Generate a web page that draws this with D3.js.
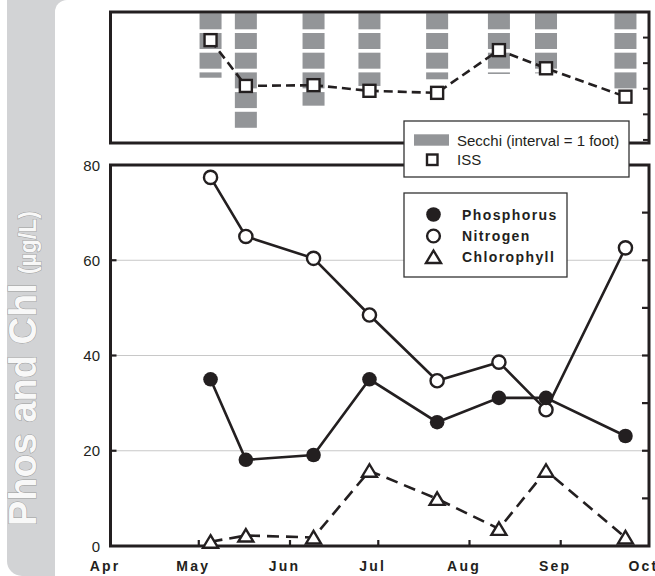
<!DOCTYPE html>
<html>
<head>
<meta charset="utf-8">
<script src="https://cdn.jsdelivr.net/npm/d3@7"></script>
<style>
  html, body { margin: 0; padding: 0; background: #ffffff; }
  svg { display: block; }
  text { font-family: "Liberation Sans", Arial, sans-serif; }
</style>
</head>
<body>
<script>
// ---------- DATA ----------
const sampleDates = ["2009-05-05", "2009-05-17", "2009-06-09", "2009-06-28", "2009-07-21", "2009-08-11", "2009-08-27", "2009-09-23"];
const phosphorus  = [35.0, 18.1, 19.1, 35.0, 26.0, 31.1, 31.1, 23.1];
const nitrogen    = [77.4, 65.0, 60.4, 48.5, 34.7, 38.6, 28.6, 62.6];
const chlorophyll = [0.9, 2.2, 1.8, 15.8, 9.9, 3.6, 15.8, 1.8];
const secchiFeet  = [3.27, 6.0, 4.69, 3.69, 3.35, 3.08, 3.05, 3.85];
const issValues   = [3.90, 2.11, 2.14, 1.92, 1.84, 3.51, 2.80, 1.69];
const monthTickDates = ["2009-04-01", "2009-05-01", "2009-06-01", "2009-07-01", "2009-08-01", "2009-09-01", "2009-10-01"];
const monthLabels = ["Apr", "May", "Jun", "Jul", "Aug", "Sep", "Oct"];
const yTickValues = [0, 20, 40, 60, 80];
const yMinorTicks = [10, 20, 30, 40, 50, 60, 70];
const issTicks = [0, 1, 2, 3, 4];
const legendMain = ["Phosphorus", "Nitrogen", "Chlorophyll"];
const legendTop = ["Secchi (interval = 1 foot)", "ISS"];
const yTitle = "Phos and Chl";
const yUnit = "(µg/L)";

// ---------- SETUP ----------
const W = 655, H = 576;
const parse = d3.timeParse("%Y-%m-%d");
const dates = sampleDates.map(parse);
const ink = "#231f20";

const svg = d3.select("body").append("svg").attr("width", W).attr("height", H);

// left gray banner
svg.append("path")
  .attr("d", "M7,0 H80 V576 H22 A15,15 0 0 1 7,561 Z")
  .attr("fill", "#d2d3d5");
svg.append("rect").attr("x", 55).attr("y", 0).attr("width", 640).attr("height", 620)
  .attr("rx", 12).attr("fill", "#ffffff");

const titleT = svg.append("text")
  .attr("transform", "translate(36,526) rotate(-90)")
  .attr("font-weight", "bold")
  .attr("fill", "#f8f8f8").attr("stroke", "#9c9c9c").attr("stroke-width", 1)
  .attr("paint-order", "stroke");
titleT.append("tspan").attr("font-size", 38).text(yTitle);
titleT.append("tspan").attr("font-size", 23).attr("dx", 9).text(yUnit);

// ---------- SCALES ----------
const x = d3.scaleTime().domain([parse(monthTickDates[0]), parse(monthTickDates[6])]).range([110.5, 649]);
const y = d3.scaleLinear().domain([0, 80]).range([546, 165]);
const yIss = d3.scaleLinear().domain([-0.12, 5.0]).range([143, 12]);
const ySec = d3.scaleLinear().domain([0, 6.6]).range([13.3, 143.3]);

// ---------- TOP PANEL ----------
const topG = svg.append("g");
const segs = [];
secchiFeet.forEach((d, i) => {
  for (let k = 0; k < Math.ceil(d); k++) {
    const y0 = ySec(k);
    const y1 = Math.min(ySec(k + 1) - 3.7, ySec(d));
    if (y1 > y0) segs.push({ i, y0, y1 });
  }
});
topG.selectAll("rect.sec").data(segs).join("rect")
  .attr("class", "sec")
  .attr("x", d => x(dates[d.i]) - 11).attr("width", 22)
  .attr("y", d => d.y0).attr("height", d => d.y1 - d.y0)
  .attr("fill", "#939598");

topG.append("path")
  .datum(issValues)
  .attr("d", d3.line().x((d, i) => x(dates[i])).y(d => yIss(d)))
  .attr("fill", "none").attr("stroke", ink).attr("stroke-width", 2.6)
  .attr("stroke-dasharray", "9,5");
topG.selectAll("rect.iss").data(issValues).join("rect")
  .attr("class", "iss")
  .attr("x", (d, i) => x(dates[i]) - 6).attr("y", d => yIss(d) - 6)
  .attr("width", 12).attr("height", 12)
  .attr("fill", "#fff").attr("stroke", ink).attr("stroke-width", 2.4);

topG.append("rect").attr("x", 110.5).attr("y", 12).attr("width", 649 - 110.5).attr("height", 131)
  .attr("fill", "none").attr("stroke", ink).attr("stroke-width", 3);
topG.selectAll("line.itick").data(issTicks).join("line")
  .attr("x1", 649).attr("x2", 643)
  .attr("y1", d => yIss(d)).attr("y2", d => yIss(d))
  .attr("stroke", ink).attr("stroke-width", 2);

// ---------- MAIN PANEL ----------
const mainG = svg.append("g");
mainG.selectAll("line.grid").data(yTickValues.filter(v => v > 0 && v < 80)).join("line")
  .attr("x1", 110.5).attr("x2", 649)
  .attr("y1", d => y(d)).attr("y2", d => y(d))
  .attr("stroke", "#c8c8c8").attr("stroke-width", 1);

mainG.selectAll("line.rtick").data(yMinorTicks).join("line")
  .attr("x1", 649).attr("x2", 642)
  .attr("y1", d => y(d)).attr("y2", d => y(d))
  .attr("stroke", ink).attr("stroke-width", 2.2);
mainG.selectAll("line.ltick").data(yTickValues.filter(v => v > 0 && v < 80)).join("line")
  .attr("x1", 110.5).attr("x2", 116.5)
  .attr("y1", d => y(d)).attr("y2", d => y(d))
  .attr("stroke", ink).attr("stroke-width", 2.2);
mainG.selectAll("line.btick").data(monthTickDates.slice(1, 6).map(parse)).join("line")
  .attr("x1", d => x(d)).attr("x2", d => x(d))
  .attr("y1", 546).attr("y2", 540)
  .attr("stroke", ink).attr("stroke-width", 2.2);

mainG.append("rect").attr("x", 110.5).attr("y", 165).attr("width", 649 - 110.5).attr("height", 381)
  .attr("fill", "none").attr("stroke", ink).attr("stroke-width", 3);

mainG.selectAll("text.yl").data(yTickValues).join("text")
  .attr("class", "yl")
  .attr("x", 100).attr("y", d => y(d) + 5.5)
  .attr("text-anchor", "end").attr("font-size", 15).attr("fill", ink)
  .text(d => d);

mainG.selectAll("text.ml").data(monthLabels).join("text")
  .attr("class", "ml")
  .attr("x", (d, i) => x(parse(monthTickDates[i])) - 5.5).attr("y", 571)
  .attr("text-anchor", "middle").attr("font-size", 14).attr("font-weight", "bold")
  .attr("letter-spacing", 2.2).attr("fill", ink)
  .text(d => d);

const line = d3.line().x((d, i) => x(dates[i])).y(d => y(d));
mainG.append("path").datum(nitrogen).attr("d", line)
  .attr("fill", "none").attr("stroke", ink).attr("stroke-width", 2.6);
mainG.append("path").datum(phosphorus).attr("d", line)
  .attr("fill", "none").attr("stroke", ink).attr("stroke-width", 2.6);
mainG.append("path").datum(chlorophyll).attr("d", line)
  .attr("fill", "none").attr("stroke", ink).attr("stroke-width", 2.6)
  .attr("stroke-dasharray", "12,7");

const triPath = "M0,-6.5 L7.5,6 L-7.5,6 Z";
mainG.selectAll("circle.n").data(nitrogen).join("circle")
  .attr("class", "n")
  .attr("cx", (d, i) => x(dates[i])).attr("cy", d => y(d)).attr("r", 6.6)
  .attr("fill", "#fff").attr("stroke", ink).attr("stroke-width", 2.4);
mainG.selectAll("circle.p").data(phosphorus).join("circle")
  .attr("class", "p")
  .attr("cx", (d, i) => x(dates[i])).attr("cy", d => y(d)).attr("r", 7.3)
  .attr("fill", ink);
mainG.selectAll("path.c").data(chlorophyll).join("path")
  .attr("class", "c")
  .attr("transform", (d, i) => `translate(${x(dates[i])},${y(d)})`)
  .attr("d", triPath)
  .attr("fill", "#fff").attr("stroke", ink).attr("stroke-width", 2.4);

// ---------- LEGENDS ----------
const lg1 = svg.append("g");
lg1.append("rect").attr("x", 404).attr("y", 121).attr("width", 225).attr("height", 56)
  .attr("fill", "#fff").attr("stroke", "#333").attr("stroke-width", 1.3);
lg1.append("rect").attr("x", 414).attr("y", 134.3).attr("width", 35).attr("height", 11.4).attr("fill", "#939598");
lg1.append("rect").attr("x", 427).attr("y", 154.5).attr("width", 10.5).attr("height", 10.5)
  .attr("fill", "#fff").attr("stroke", ink).attr("stroke-width", 2.4);
lg1.selectAll("text").data(legendTop).join("text")
  .attr("x", 457).attr("y", (d, i) => 146 + i * 18.5)
  .attr("font-size", 15).attr("fill", ink).text(d => d);

const lg2 = svg.append("g");
lg2.append("rect").attr("x", 404).attr("y", 193).attr("width", 163).attr("height", 84)
  .attr("fill", "#fff").attr("stroke", "#333").attr("stroke-width", 1.3);
lg2.append("circle").attr("cx", 433.5).attr("cy", 214.5).attr("r", 7.3).attr("fill", ink);
lg2.append("circle").attr("cx", 433.5).attr("cy", 236).attr("r", 6.4)
  .attr("fill", "#fff").attr("stroke", ink).attr("stroke-width", 2.4);
lg2.append("path").attr("transform", "translate(433.5,257)").attr("d", triPath)
  .attr("fill", "#fff").attr("stroke", ink).attr("stroke-width", 2.4);
lg2.selectAll("text").data(legendMain).join("text")
  .attr("x", 462).attr("y", (d, i) => 220 + i * 21)
  .attr("font-size", 14).attr("font-weight", "bold").attr("letter-spacing", 1.4)
  .attr("fill", ink).text(d => d);
</script>
</body>
</html>
